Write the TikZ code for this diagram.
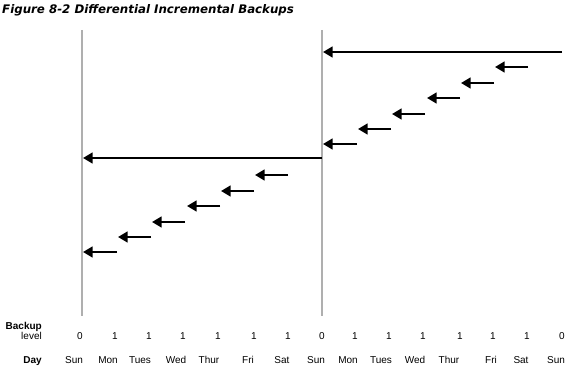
\documentclass[tikz,border=0pt]{standalone}
\usepackage{fontspec}
\setmainfont{Liberation Sans}
\newfontfamily\titlefont{DejaVu Sans}
\usetikzlibrary{arrows.meta,positioning}
\definecolor{weekline}{RGB}{175,175,175}
\tikzset{
  weekbar/.style={draw=weekline, line width=1.5pt},
  backarrow/.style={-{Triangle[length=9.5pt,width=10.5pt]}, line width=2.6pt, black},
  rowlabel/.style={anchor=base east, inner sep=0pt, font=\fontsize{10}{10}\selectfont\bfseries},
  levelnum/.style={anchor=base, inner sep=0pt, font=\fontsize{10}{10}\selectfont},
  dayname/.style={anchor=base, inner sep=0pt, font=\fontsize{10}{10}\selectfont}
}
\begin{document}
\begin{tikzpicture}[x=1pt, y=-1pt]
\useasboundingbox (0,0) rectangle (578,369);
\node[anchor=base west, inner sep=0pt, font=\titlefont\fontsize{11.8}{12}\selectfont\bfseries\itshape] (title) at (2,14) {Figure 8-2 Differential Incremental Backups};
\coordinate (sunA-top) at (82,30);
\coordinate (sunA-bot) at (82,316);
\coordinate (sunB-top) at (322,30);
\coordinate (sunB-bot) at (322,316);
\draw[weekbar] (sunA-top) -- (sunA-bot);
\draw[weekbar] (sunB-top) -- (sunB-bot);
% incrementals, one per day, stepping up
\foreach \xs/\xe/\yy [count=\i] in {117/83/252, 151/118/237, 185/152/222, 220/187/206, 254/221/191, 288/255/175,
  357/323/144, 391/358/129, 425/392/114, 460/427/98, 494/461/83, 528/495/67}{
  \coordinate (inc\i-from) at (\xs,\yy);
  \coordinate (inc\i-to) at (\xe,\yy);
  \draw[backarrow] (inc\i-from) -- (inc\i-to);
}
\coordinate (fullA-from) at (322,158);
\coordinate (fullA-to) at (83,158);
\coordinate (fullB-from) at (562,52);
\coordinate (fullB-to) at (323,52);
\draw[backarrow] (fullA-from) -- (fullA-to);
\draw[backarrow] (fullB-from) -- (fullB-to);
\node[rowlabel] (backup) at (42,329) {Backup};
\node[rowlabel, font=\fontsize{10}{10}\selectfont] (level) at (42,339) {level};
\node[rowlabel] (day) at (42,363.5) {Day};
\node[levelnum] (lv1) at (80,339) {0};
\node[levelnum] (lv2) at (115,339) {1};
\node[levelnum] (lv3) at (149,339) {1};
\node[levelnum] (lv4) at (183,339) {1};
\node[levelnum] (lv5) at (218,339) {1};
\node[levelnum] (lv6) at (254,339) {1};
\node[levelnum] (lv7) at (288,339) {1};
\node[levelnum] (lv8) at (322,339) {0};
\node[levelnum] (lv9) at (355,339) {1};
\node[levelnum] (lv10) at (389,339) {1};
\node[levelnum] (lv11) at (423,339) {1};
\node[levelnum] (lv12) at (460,339) {1};
\node[levelnum] (lv13) at (493,339) {1};
\node[levelnum] (lv14) at (527,339) {1};
\node[levelnum] (lv15) at (562,339) {0};
\node[dayname] (d1) at (74,363.5) {Sun};
\node[dayname] (d2) at (108,363.5) {Mon};
\node[dayname] (d3) at (140,363.5) {Tues};
\node[dayname] (d4) at (176,363.5) {Wed};
\node[dayname] (d5) at (209,363.5) {Thur};
\node[dayname] (d6) at (248,363.5) {Fri};
\node[dayname] (d7) at (282,363.5) {Sat};
\node[dayname] (d8) at (316,363.5) {Sun};
\node[dayname] (d9) at (348,363.5) {Mon};
\node[dayname] (d10) at (381,363.5) {Tues};
\node[dayname] (d11) at (415,363.5) {Wed};
\node[dayname] (d12) at (449,363.5) {Thur};
\node[dayname] (d13) at (491,363.5) {Fri};
\node[dayname] (d14) at (521,363.5) {Sat};
\node[dayname] (d15) at (556,363.5) {Sun};
\end{tikzpicture}
\end{document}
